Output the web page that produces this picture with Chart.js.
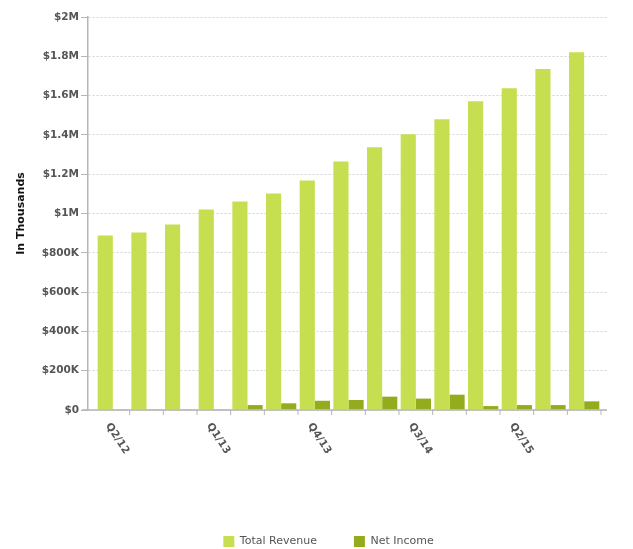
<!DOCTYPE html>
<html>
<head>
<meta charset="utf-8">
<script src="https://cdn.jsdelivr.net/npm/chart.js@4/dist/chart.umd.min.js"></script>
<style>
  html, body { margin: 0; padding: 0; background: #fff; }
  #wrap { width: 633px; height: 549px; }
</style>
</head>
<body>
<div id="wrap"><canvas id="revenueChart"></canvas></div>
<script>
const quarters = ['Q2/12', 'Q3/12', 'Q4/12', 'Q1/13', 'Q2/13', 'Q3/13', 'Q4/13', 'Q1/14',
                  'Q2/14', 'Q3/14', 'Q4/14', 'Q1/15', 'Q2/15', 'Q3/15', 'Q4/15'];
// values in $K
const totalRevenue = [888, 903, 944, 1020, 1061, 1102, 1168, 1265, 1337, 1403, 1480, 1571, 1638, 1735, 1821];
const netIncome = [1, 1, 1, 1, 25, 34, 47, 51, 68, 58, 78, 20, 25, 25, 44];
const shownLabels = ['Q2/12', 'Q1/13', 'Q4/13', 'Q3/14', 'Q2/15'];

const FONT = 'DejaVu Sans';
const lightGreen = '#c6df50';
const darkGreen = '#93ac1d';

function money(v) {
    if (v === 0) return '$0';
    if (v >= 1000) return '$' + (v / 1000) + 'M';
    return '$' + v + 'K';
}

// shifts the category axis a bit inside the plot and draws the bottom axis + slanted labels
const xAxisPlugin = {
    id: 'xAxisPlugin',
    afterLayout(chart) {
        const x = chart.scales.x;
        x.left = chart.chartArea.left + 8;
        x.right = chart.chartArea.right - 6;
        x.width = x.right - x.left;
        x.configure();
        // legend sits a little left of the plot centre
        chart.legend.left -= 19;
        chart.legend.right -= 19;
    },
    afterDraw(chart) {
        const ctx = chart.ctx;
        const x = chart.scales.x;
        const area = chart.chartArea;
        const y0 = chart.scales.y.getPixelForValue(0);
        ctx.save();
        ctx.strokeStyle = '#b5b5b5';
        ctx.lineWidth = 1.5;
        ctx.beginPath();
        ctx.moveTo(area.left - 6, y0);
        ctx.lineTo(area.right, y0);
        ctx.stroke();
        ctx.lineWidth = 1;
        const half = (x.getPixelForValue(1) - x.getPixelForValue(0)) / 2;
        quarters.forEach((q, i) => {
            const px = x.getPixelForValue(i) + half;
            ctx.beginPath();
            ctx.moveTo(px, y0);
            ctx.lineTo(px, y0 + 5);
            ctx.stroke();
        });
        ctx.fillStyle = '#555';
        ctx.font = 'bold 10.5px "' + FONT + '"';
        ctx.textAlign = 'left';
        ctx.textBaseline = 'middle';
        quarters.forEach((q, i) => {
            if (!shownLabels.includes(q)) return;
            const px = x.getPixelForValue(i);
            ctx.save();
            ctx.translate(px - 5, y0 + 14);
            ctx.rotate(57 * Math.PI / 180);
            ctx.fillText(q, 0, 0);
            ctx.restore();
        });
        ctx.restore();
    }
};

const ctx = document.getElementById('revenueChart').getContext('2d');
new Chart(ctx, {
    type: 'bar',
    data: {
        labels: quarters,
        datasets: [
            {
                label: 'Total Revenue',
                data: totalRevenue,
                backgroundColor: lightGreen,
                borderWidth: 0,
                categoryPercentage: 0.9,
                barPercentage: 1.0
            },
            {
                label: 'Net Income',
                data: netIncome,
                backgroundColor: darkGreen,
                borderWidth: 0,
                categoryPercentage: 0.9,
                barPercentage: 1.0
            }
        ]
    },
    options: {
        responsive: true,
        maintainAspectRatio: false,
        animation: false,
        layout: { padding: { left: 10, right: 26, top: 17, bottom: -8 } },
        plugins: {
            tooltip: { enabled: false },
            legend: {
                position: 'bottom',
                fullSize: false,
                labels: {
                    boxWidth: 11,
                    boxHeight: 11,
                    padding: 37,
                    color: '#555',
                    font: { family: FONT, size: 11 }
                }
            }
        },
        scales: {
            x: {
                offset: true,
                grid: { display: false },
                border: { display: false },
                ticks: { display: false },
                afterFit(scale) { scale.height = 89; }
            },
            y: {
                min: 0,
                max: 2000,
                ticks: {
                    stepSize: 200,
                    padding: 2,
                    color: '#555',
                    font: { family: FONT, size: 10.5, weight: 'bold' },
                    callback: v => money(v)
                },
                grid: {
                    color: '#d4d4d4',
                    tickLength: 7,
                    tickColor: '#b5b5b5',
                    tickBorderDash: []
                },
                border: { color: '#b5b5b5', width: 1.5, dash: [2, 2] },
                title: {
                    display: true,
                    text: 'In Thousands',
                    color: '#111',
                    font: { family: FONT, size: 11, weight: 'bold' },
                    padding: { top: 5, bottom: 0 }
                },
                afterFit(scale) { scale.width = 78; }
            }
        }
    },
    plugins: [xAxisPlugin]
});
</script>
</body>
</html>
